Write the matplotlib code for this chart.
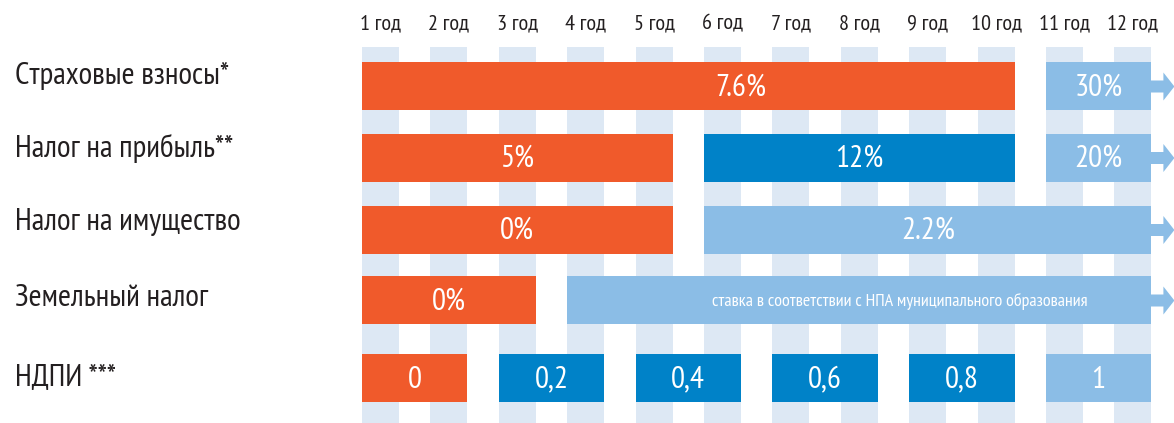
import matplotlib
matplotlib.use('Agg')
import matplotlib.pyplot as plt
from matplotlib.patches import Polygon

plt.rcParams['font.family'] = ['PT Sans Narrow', 'DejaVu Sans']

# data
years = ['1 год', '2 год', '3 год', '4 год', '5 год', '6 год',
         '7 год', '8 год', '9 год', '10 год', '11 год', '12 год']
taxes = ['Страховые взносы*', 'Налог на прибыль**', 'Налог на имущество',
         'Земельный налог', 'НДПИ ***']

# (first year, last year, label, phase) -- phase: 'low' льготная, 'mid' переходная, 'full' общая
insurance = [(1, 10, '7.6%', 'low'), (11, 12, '30%', 'full')]
profit = [(1, 5, '5%', 'low'), (6, 10, '12%', 'mid'), (11, 12, '20%', 'full')]
property_tax = [(1, 5, '0%', 'low'), (6, 12, '2.2%', 'full')]
land = [(1, 3, '0%', 'low'), (4, 12, 'ставка в соответствии с НПА муниципального образования', 'full')]
ndpi = [(1, 2, '0', 'low'), (3, 4, '0,2', 'mid'), (5, 6, '0,4', 'mid'),
        (7, 8, '0,6', 'mid'), (9, 10, '0,8', 'mid'), (11, 12, '1', 'full')]
rows = [insurance, profit, property_tax, land, ndpi]
continues = [True, True, True, True, False]

# style / layout
colors = {'low': '#f05a2b', 'mid': '#0082c8', 'full': '#8bbde6'}
stripe_color = '#dde8f4'
text_color = '#231f20'
w = 37 / 68.4                      # stripe width in year units
row_y = [86.5, 158, 230, 300.5, 378.5]
label_y = [76, 148.5, 221.5, 298.5, 378.5]
bar_h = 48
label_x = {(0, 0): 5.54, (3, 1): 7.87}
label_size = {(3, 1): 13}

fig = plt.figure(figsize=(11.74, 4.23), dpi=100)
ax = fig.add_axes([0, 0, 1, 1])
ax.set_xlim(-362 / 68.4, (1174 - 362) / 68.4)
ax.set_ylim(423, 0)
ax.axis('off')

# background columns
ax.bar(range(len(years)), 376, bottom=47, width=w, align='edge', color=stripe_color, zorder=1)
for i, y in enumerate(years):
    ax.text(i + w / 2, 24, y, ha='center', va='center', fontsize=16, color=text_color)

for r, (name, segs) in enumerate(zip(taxes, rows)):
    ax.text(15 / 1174, label_y[r], name, ha='left', va='center', fontsize=22.5,
            color=text_color, transform=ax.get_yaxis_transform())
    for s, (a, b, lab, phase) in enumerate(segs):
        left = a - 1
        width = b - a + w
        ax.barh(row_y[r], width, left=left, height=bar_h, color=colors[phase], zorder=2)
        cx = label_x.get((r, s), left + width / 2)
        ax.text(cx, row_y[r] + 1, lab, ha='center', va='center', color='white',
                fontsize=label_size.get((r, s), 22.5), zorder=3)
    if continues[r]:
        # arrow: the rate stays after year 12
        a, b, lab, phase = segs[-1]
        end = b - 1 + w
        y0 = row_y[r]
        pts = [(end - 0.01, y0 - 6), (end + 12 / 68.4, y0 - 6), (end + 12 / 68.4, y0 - 14),
               (end + 23 / 68.4, y0), (end + 12 / 68.4, y0 + 14), (end + 12 / 68.4, y0 + 6),
               (end - 0.01, y0 + 6)]
        ax.add_patch(Polygon(pts, closed=True, color=colors[phase], zorder=2, lw=0))

fig.savefig('out.png', dpi=100)
